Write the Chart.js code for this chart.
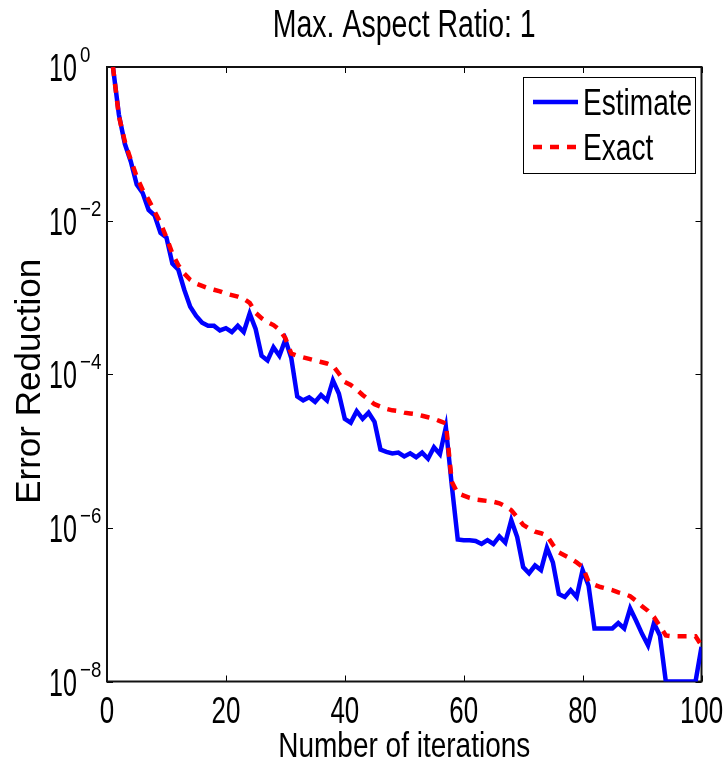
<!DOCTYPE html>
<html>
<head>
<meta charset="utf-8">
<script src="https://cdn.jsdelivr.net/npm/chart.js@4.4.0/dist/chart.umd.min.js"></script>
<style>
    html, body { margin: 0; padding: 0; background: #fff; }
    #wrap { width: 728px; height: 765px; }
</style>
</head>
<body>
<div id="wrap"><canvas id="chart" width="728" height="765"></canvas></div>
<script>
// --- Data: log10 of the error reduction after each iteration ---
const iterations = Array.from({ length: 100 }, (_, i) => i + 1);

const estimateExp = [
    0.00, -0.62, -1.00, -1.23, -1.53, -1.64, -1.86, -1.93, -2.16, -2.22,
    -2.56, -2.64, -2.90, -3.12, -3.24, -3.33, -3.37, -3.37, -3.43, -3.40,
    -3.45, -3.37, -3.45, -3.21, -3.41, -3.76, -3.82, -3.65, -3.76, -3.55,
    -3.79, -4.29, -4.34, -4.30, -4.36, -4.27, -4.34, -4.08, -4.25, -4.58,
    -4.63, -4.48, -4.58, -4.50, -4.62, -4.98, -5.01, -5.03, -5.02, -5.07,
    -5.03, -5.08, -5.02, -5.10, -4.95, -5.04, -4.69, -5.45, -6.15, -6.16,
    -6.16, -6.17, -6.21, -6.16, -6.21, -6.11, -6.19, -5.90, -6.12, -6.51,
    -6.59, -6.49, -6.55, -6.26, -6.45, -6.86, -6.90, -6.81, -6.90, -6.55,
    -6.75, -7.31, -7.31, -7.31, -7.31, -7.24, -7.31, -7.05, -7.21, -7.38,
    -7.53, -7.24, -7.40, -8.00, -8.00, -8.00, -8.00, -8.00, -8.00, -7.55
];

const exactExp = [
    0.00, -0.64, -0.97, -1.21, -1.43, -1.60, -1.73, -1.88, -2.03, -2.22,
    -2.43, -2.58, -2.69, -2.77, -2.82, -2.85, -2.88, -2.90, -2.92, -2.95,
    -2.97, -2.99, -3.02, -3.07, -3.20, -3.27, -3.32, -3.36, -3.42, -3.53,
    -3.73, -3.76, -3.78, -3.80, -3.82, -3.84, -3.86, -3.89, -3.99, -4.10,
    -4.14, -4.20, -4.27, -4.33, -4.39, -4.42, -4.45, -4.47, -4.48, -4.50,
    -4.51, -4.52, -4.54, -4.56, -4.58, -4.61, -4.64, -5.40, -5.55, -5.58,
    -5.61, -5.63, -5.64, -5.65, -5.66, -5.68, -5.72, -5.77, -5.86, -5.96,
    -6.01, -6.05, -6.07, -6.10, -6.22, -6.32, -6.36, -6.40, -6.45, -6.51,
    -6.70, -6.74, -6.77, -6.79, -6.81, -6.84, -6.86, -6.89, -6.95, -7.02,
    -7.08, -7.16, -7.28, -7.40, -7.41, -7.41, -7.41, -7.41, -7.41, -7.53
];

const xTicks = [0, 20, 40, 60, 80, 100];
const yTickExps = [0, -2, -4, -6, -8];
// ---------------------------------------------------------------

const FONT = '"Liberation Sans", Arial, sans-serif';

function toPoints(exps) {
    return exps.map((e, i) => ({ x: iterations[i], y: Math.pow(10, e) }));
}

// text squeezed horizontally, like the narrow MATLAB export
function squeezedText(ctx, str, x, y, size, sx, align) {
    ctx.save();
    ctx.translate(x, y);
    ctx.scale(sx, 1);
    ctx.font = `${size}px ${FONT}`;
    ctx.textAlign = align;
    ctx.textBaseline = 'alphabetic';
    ctx.fillStyle = '#000';
    ctx.fillText(str, 0, 0);
    ctx.restore();
}

const matlabAxes = {
    id: 'matlabAxes',
    beforeDatasetsDraw(chart) {
        const { ctx, chartArea: a, scales: { x, y } } = chart;
        ctx.save();
        ctx.strokeStyle = '#000';
        ctx.lineWidth = 1;
        xTicks.forEach(v => {
            const px = Math.round(x.getPixelForValue(v)) + 0.5;
            ctx.beginPath();
            ctx.moveTo(px, a.bottom); ctx.lineTo(px, a.bottom - 6);
            ctx.moveTo(px, a.top); ctx.lineTo(px, a.top + 6);
            ctx.stroke();
        });
        yTickExps.forEach(e => {
            const py = Math.round(y.getPixelForValue(Math.pow(10, e))) + 0.5;
            ctx.beginPath();
            ctx.moveTo(a.left, py); ctx.lineTo(a.left + 6, py);
            ctx.moveTo(a.right, py); ctx.lineTo(a.right - 6, py);
            ctx.stroke();
        });
        ctx.lineWidth = 2;
        ctx.strokeStyle = '#111';
        ctx.strokeRect(a.left, a.top, a.right - a.left, a.bottom - a.top);
        ctx.restore();
    },
    afterDraw(chart) {
        const { ctx, chartArea: a, scales: { x, y } } = chart;
        const cx = (a.left + a.right) / 2;

        squeezedText(ctx, 'Max. Aspect Ratio: 1', cx, 37, 38, 0.75, 'center');

        xTicks.forEach(v => {
            squeezedText(ctx, String(v), x.getPixelForValue(v), 723, 36, 0.72, 'center');
        });
        squeezedText(ctx, 'Number of iterations', cx, 757, 35, 0.8, 'center');

        yTickExps.forEach(e => {
            const py = y.getPixelForValue(Math.pow(10, e));
            squeezedText(ctx, '10', 49, py + 14, 38, 0.66, 'left');
            const exp = e === 0 ? '0' : '\u2212' + Math.abs(e);
            squeezedText(ctx, exp, 80, py - 5, 22, 0.85, 'left');
        });

        // rotated y title
        ctx.save();
        ctx.translate(40, (a.top + a.bottom) / 2 + 7);
        ctx.rotate(-Math.PI / 2);
        ctx.font = `35px ${FONT}`;
        ctx.textAlign = 'center';
        ctx.textBaseline = 'alphabetic';
        ctx.fillStyle = '#000';
        ctx.fillText('Error Reduction', 0, 0);
        ctx.restore();

        // legend box
        const lx = 523, ly = 77, lw = 172, lh = 96;
        ctx.save();
        ctx.fillStyle = '#fff';
        ctx.fillRect(lx, ly, lw, lh);
        ctx.strokeStyle = '#000';
        ctx.lineWidth = 1;
        ctx.strokeRect(lx + 0.5, ly + 0.5, lw, lh);
        chart.data.datasets.forEach((ds, i) => {
            const ry = 102 + i * 45;
            ctx.beginPath();
            ctx.strokeStyle = ds.borderColor;
            ctx.lineWidth = ds.borderWidth;
            ctx.setLineDash(ds.borderDash || []);
            ctx.moveTo(533, ry);
            ctx.lineTo(578, ry);
            ctx.stroke();
            ctx.setLineDash([]);
            squeezedText(ctx, ds.label, 583, ry + 13, 36, 0.78, 'left');
        });
        ctx.restore();
    }
};

new Chart(document.getElementById('chart'), {
    type: 'line',
    data: {
        datasets: [{
            label: 'Estimate',
            data: toPoints(estimateExp),
            borderColor: '#0000ff',
            borderWidth: 4.5,
            pointRadius: 0,
            tension: 0,
            order: 1
        }, {
            label: 'Exact',
            data: toPoints(exactExp),
            borderColor: '#ff0000',
            borderWidth: 4.5,
            borderDash: [9, 8],
            borderCapStyle: 'butt',
            pointRadius: 0,
            tension: 0,
            order: 0
        }]
    },
    options: {
        responsive: false,
        animation: false,
        events: [],
        layout: { padding: { left: 107, top: 67, right: 26.5, bottom: 83.5 } },
        plugins: {
            legend: { display: false },
            tooltip: { enabled: false },
            title: { display: false }
        },
        scales: {
            x: {
                type: 'linear',
                min: 0,
                max: 100,
                ticks: { display: false },
                grid: { display: false },
                border: { display: false },
                afterFit: s => { s.height = 0; }
            },
            y: {
                type: 'logarithmic',
                min: 1e-8,
                max: 1,
                ticks: { display: false },
                grid: { display: false },
                border: { display: false },
                afterFit: s => { s.width = 0; }
            }
        }
    },
    plugins: [matlabAxes]
});
</script>
</body>
</html>
